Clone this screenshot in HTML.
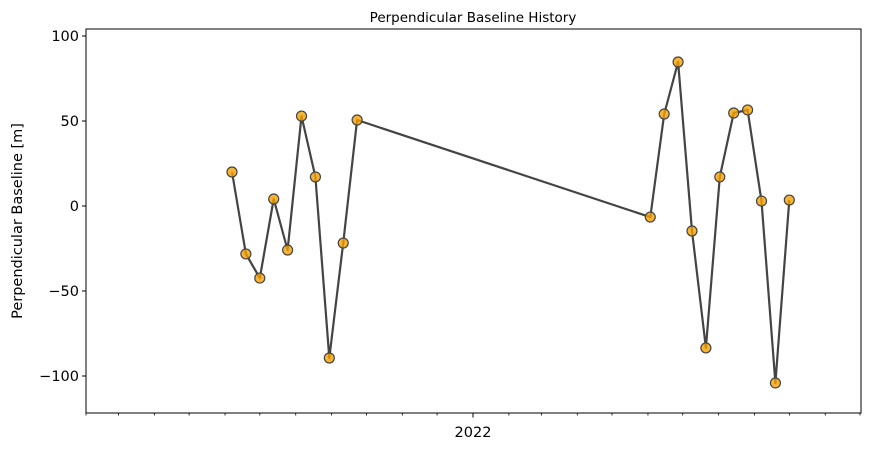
<!DOCTYPE html>
<html><head><meta charset="utf-8"><style>
body{margin:0;background:#fff;font-family:"Liberation Sans","DejaVu Sans",sans-serif}
svg text{font-family:"DejaVu Sans","Liberation Sans",sans-serif}
</style></head><body>
<svg id="chart" width="871" height="450" viewBox="0 0 871 450" xmlns="http://www.w3.org/2000/svg"></svg>
<script>
// days since 2022-01-01
const dayOffsets=[-208,-196,-184,-172,-160,-148,-136,-124,-112,-100,153,165,177,189,201,213,225,237,249,261,273];
const baselines=[20,-28.2,-42.4,4.1,-25.9,52.9,17.1,-89.4,-21.8,50.6,-6.5,54.1,84.7,-14.7,-83.5,17.1,54.7,56.5,2.9,-104.1,3.5];
const yTicks=[100,50,0,-50,-100];
const yTickLabels=["100","50","0","\u221250","\u2212100"];
const monthTickDays=[-334,-306,-275,-245,-214,-184,-153,-122,-92,-61,-31,0,31,59,90,120,151,181,212,243,273,304,334];
const majorTickLabels=["2022"];
const majorTickDays=[0];

const L=86,R=861,T=29,B=413;
const xs=d=>473+d*(387/334);
const ys=v=>206-v*1.7;
const svg=document.getElementById('chart');
const NS="http://www.w3.org/2000/svg";
function mk(tag,attrs,parent){const e=document.createElementNS(NS,tag);for(const k in attrs)e.setAttribute(k,attrs[k]);(parent||svg).appendChild(e);return e;}

const title=mk('text',{x:473,y:22,'text-anchor':'middle','font-size':13.5,fill:'#000'});
title.textContent='Perpendicular Baseline History';



const yt=mk('text',{x:22,y:221,'text-anchor':'middle','font-size':14.5,transform:'rotate(-90 22 221)'});
yt.textContent='Perpendicular Baseline [m]';



yTicks.forEach((v,i)=>{
  const y=ys(v);
  const tk=mk('line',{x1:L-4,x2:L,y1:y,y2:y,stroke:'#000','stroke-width':1});
  
  
  const t=mk('text',{x:L-7,y:y+5,'text-anchor':'end','font-size':14.5});
  t.textContent=yTickLabels[i];
  
  
});
monthTickDays.forEach(d=>{
  const x=xs(d);
  const tk=mk('line',{x1:x,x2:x,y1:B,y2:B+2.5,stroke:'#000','stroke-width':0.8});
  
  
});
majorTickDays.forEach((d,i)=>{
  const x=xs(d);
  const tk=mk('line',{x1:x,x2:x,y1:B,y2:B+4.5,stroke:'#000','stroke-width':1});
  
  
  const t=mk('text',{x:x,y:B+24,'text-anchor':'middle','font-size':14.5});
  t.textContent=majorTickLabels[i];
  
  
});

const pts=dayOffsets.map((d,i)=>xs(d).toFixed(1)+','+ys(baselines[i]).toFixed(1)).join(' ');
const line=mk('polyline',{points:pts,fill:'none',stroke:'#444','stroke-width':2.2,'stroke-linejoin':'round'});



dayOffsets.forEach((d,i)=>{
  const c=mk('circle',{cx:xs(d),cy:ys(baselines[i]),r:5,fill:'rgba(245,160,0,0.8)',stroke:'#444','stroke-width':1.2});
  
  
});

const frame=mk('rect',{x:L,y:T,width:R-L,height:B-T,fill:'none',stroke:'#000','stroke-width':1});


</script>
</body></html>
